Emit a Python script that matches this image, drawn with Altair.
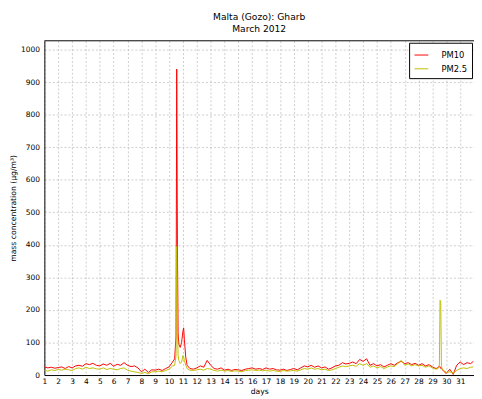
import altair as alt
import pandas as pd

# --- time axis (days of March 2012) ---
days_a = [1 + 0.25 * i for i in range(38)]            # 1.00 .. 10.25
days_s1 = [10.4, 10.5, 10.55, 10.6, 10.65, 10.7, 10.8, 10.9, 11.0, 11.05, 11.1, 11.2, 11.3]
days_b = [11.5 + 0.25 * i for i in range(72)]         # 11.50 .. 29.25
days_s2 = [29.4, 29.5, 29.55, 29.6, 29.65, 29.7, 29.8]
days_c = [30.0, 30.25, 30.5, 30.75, 31.0, 31.25, 31.5, 31.75, 31.95]

# --- PM10 (µg/m3) ---
pm10_a = [25, 22, 24, 21, 23, 25, 20, 26, 22, 28, 30, 27, 35, 32, 36, 30,
          28, 34, 30, 36, 27, 33, 30, 38, 30, 26, 28, 22, 10, 18, 8, 16,
          15, 18, 14, 20, 25, 40]
pm10_s1 = [50, 120, 940, 400, 130, 95, 85, 100, 135, 145, 110, 55, 30]
pm10_b = [20, 18,
          22, 28, 24, 45, 30, 20, 18, 22, 15, 18, 14, 17, 16, 14, 18, 20,
          22, 18, 20, 17, 22, 18, 20, 16, 15, 18, 14, 17, 20, 16, 22, 28,
          25, 30, 24, 28, 22, 25, 18, 22, 28, 30, 38, 34, 36, 40, 35, 48,
          42, 50, 30, 35, 28, 32, 25, 30, 35, 30, 38, 42, 35, 38, 32, 36,
          30, 35, 28, 32, 25, 20]
pm10_s2 = [22, 28, 25, 20, 22, 18, 12]
pm10_c = [5, 18, 2, 30, 40, 32, 38, 35, 42]

# --- PM2.5 (µg/m3) ---
pm25_a = [15, 12, 16, 14, 17, 15, 18, 16, 14, 20, 22, 18, 24, 20, 22, 19,
          18, 22, 17, 20, 18, 16, 20, 22, 15, 12, 10, 8, 5, 8, 4, 10,
          10, 12, 10, 14, 18, 28]
pm25_s1 = [30, 60, 395, 150, 60, 45, 35, 40, 60, 55, 45, 30, 20]
pm25_b = [15, 14,
          16, 18, 15, 20, 18, 14, 12, 15, 12, 14, 11, 13, 12, 10, 14, 15,
          16, 14, 15, 13, 15, 12, 14, 12, 11, 14, 12, 13, 14, 12, 16, 20,
          18, 22, 18, 20, 16, 18, 14, 16, 20, 24, 28, 26, 28, 30, 27, 35,
          30, 35, 24, 28, 22, 26, 20, 25, 28, 26, 35, 45, 30, 34, 28, 32,
          28, 30, 24, 28, 22, 18]
pm25_s2 = [20, 25, 230, 225, 30, 18, 15]
pm25_c = [8, 10, 6, 14, 20, 22, 20, 24, 25]

series_names = ["PM10", "PM2.5"]
series_colors = ["#ff0000", "#bfbf00"]
x_ticks = list(range(1, 32))
y_ticks = list(range(0, 1001, 100))

days = days_a + days_s1 + days_b + days_s2 + days_c
pm10 = pm10_a + pm10_s1 + pm10_b + pm10_s2 + pm10_c
pm25 = pm25_a + pm25_s1 + pm25_b + pm25_s2 + pm25_c

df = pd.DataFrame({
    "day": days + days,
    "value": pm10 + pm25,
    "series": ["PM10"] * len(days) + ["PM2.5"] * len(days),
})

FONT = "DejaVu Sans"
W, H = 437, 340

lines = alt.Chart(df).mark_line(strokeWidth=1, clip=True).encode(
    x=alt.X("day:Q",
            scale=alt.Scale(domain=[1, 32], nice=False, zero=False),
            axis=alt.Axis(values=x_ticks, format="d", title="days",
                          labelFontSize=7.6, titleFontSize=7.8,
                          labelPadding=3, titlePadding=2, ticks=False,
                          labelFlush=False)),
    y=alt.Y("value:Q",
            scale=alt.Scale(domain=[0, 1027], nice=False),
            axis=alt.Axis(values=y_ticks, format="d",
                          title="mass concentration (μg/m³)",
                          labelFontSize=7.6, titleFontSize=7.8,
                          labelPadding=5, titlePadding=3, ticks=False)),
    color=alt.Color("series:N",
                    scale=alt.Scale(domain=series_names, range=series_colors),
                    legend=alt.Legend(title=None, orient="top-right", offset=2,
                                      symbolType="M-1,0L1,0", symbolSize=196,
                                      symbolStrokeWidth=1, labelFontSize=8.5,
                                      labelOffset=13, padding=5, rowPadding=2,
                                      strokeColor="black", fillColor="white",
                                      cornerRadius=0)),
)

frame_top = alt.Chart(pd.DataFrame({"k": [0]})).mark_rule(
    color="black", strokeWidth=1
).encode(y=alt.value(0), x=alt.value(0), x2=alt.value(W))

chart = alt.layer(lines, frame_top).properties(
    width=W, height=H,
    title=alt.TitleParams(["Malta (Gozo): Gharb", "March 2012"],
                          fontSize=9.3, fontWeight="normal", font=FONT,
                          anchor="middle", offset=6, lineHeight=12,
                          color="black"),
    autosize=alt.AutoSizeParams(type="none"),
    padding={"left": 37, "top": 30, "right": 0, "bottom": 20},
).configure(font=FONT).configure_view(stroke=None).configure_axis(
    gridColor="#b8b8b8", gridDash=[2, 2], gridWidth=0.7,
    domainColor="black", domainWidth=1,
    labelColor="black", titleColor="black", labelFont=FONT, titleFont=FONT,
    titleFontWeight="normal",
).configure_legend(labelFont=FONT, labelColor="black")

chart.save("out.html", embed_options={"renderer": "svg", "actions": False})
